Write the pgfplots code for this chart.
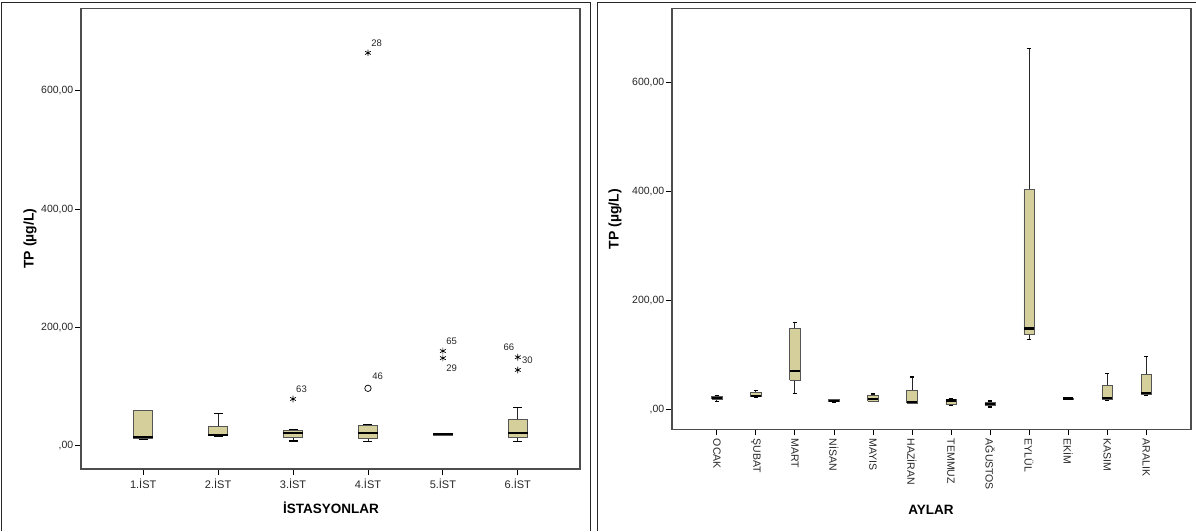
\documentclass[border=0pt]{standalone}
\usepackage{pgfplots}
\pgfplotsset{compat=1.18}
\usepackage{fontspec}
\setmainfont{Liberation Sans}
\definecolor{boxfill}{HTML}{D4CF9B}
\definecolor{boxedge}{HTML}{555555}
\definecolor{frame}{HTML}{4D4D4D}
\pgfplotsset{
  spssaxis/.style={
    scale only axis,
    axis line style={draw=frame, line width=1.4pt},
    tick align=outside,
    tick pos=left,
    major tick length=6pt,
    tick style={black, line width=0.9pt},
    tick label style={font=\fontsize{10.5}{12}\selectfont, text=black!85},
    yticklabel style={inner sep=1.5pt},
    ytick={0,200,400,600},
    yticklabels={{,00},{200,00},{400,00},{600,00}},
  },
  whisk/.style={draw=black!85, line width=0.9pt, mark=none},
  wcap/.style={draw=black, line width=1.3pt, mark=none},
  sbox/.style={draw=boxedge, fill=boxfill, line width=0.9pt, line join=miter, mark=none},
  smed/.style={draw=black, line width=2.3pt, mark=none},
}
\tikzset{olab/.style={font=\fontsize{9.5}{10}\selectfont, text=black!85, inner sep=0pt}}
% #1 position, #2 lower whisker, #3 Q1, #4 median, #5 Q3, #6 upper whisker
\newcommand{\spssbox}[6]{%
  \pgfmathsetmacro\bxl{#1-0.13}%
  \pgfmathsetmacro\bxr{#1+0.13}%
  \pgfmathsetmacro\wxl{#1-0.06}%
  \pgfmathsetmacro\wxr{#1+0.06}%
  \addplot[whisk] coordinates {(#1,#2) (#1,#3)};
  \addplot[whisk] coordinates {(#1,#5) (#1,#6)};
  \addplot[wcap] coordinates {(\wxl,#2) (\wxr,#2)};
  \addplot[wcap] coordinates {(\wxl,#6) (\wxr,#6)};
  \addplot[sbox] coordinates {(\bxl,#3) (\bxr,#3) (\bxr,#5) (\bxl,#5) (\bxl,#3)};
  \addplot[smed] coordinates {(\bxl,#4) (\bxr,#4)};
}
\begin{document}
\begin{tikzpicture}
\path[use as bounding box] (0pt,0pt) rectangle (1196pt,531pt);
% panel frames
\draw[black!85, line width=1pt] (1.5pt,0pt) -- (1.5pt,528.5pt) -- (590pt,528.5pt) -- (590pt,0pt);
\draw[black!85, line width=1pt] (597pt,0pt) -- (597pt,528.5pt) -- (1196pt,528.5pt);

% ---------------- left chart ----------------
\begin{axis}[spssaxis,
  at={(81pt,62pt)}, anchor=south west,
  width=499pt, height=460.5pt,
  xmin=0.17, xmax=6.83, ymin=-39.4, ymax=739,
  xtick={1,2,3,4,5,6},
  xticklabels={1.İST,2.İST,3.İST,4.İST,5.İST,6.İST},
  xticklabel style={font=\fontsize{11}{12}\selectfont},
]
\spssbox{1}{10}{13}{15}{59}{60}
\spssbox{2}{16}{17}{18}{33}{54}
\spssbox{3}{8}{14}{21}{25}{27}
\spssbox{4}{7.5}{12.5}{22}{34.5}{35.5}
\spssbox{5}{17.5}{18}{19.5}{20.5}{21}
\spssbox{6}{7}{14}{21}{44.5}{64}
% extreme values
\addplot[only marks, mark=asterisk, mark size=3.3pt, black, line width=0.7pt]
  coordinates {(3,79) (4,664) (5,160) (5,148) (6,149.5) (6,128)};
% outliers
\addplot[only marks, mark=o, mark size=3.2pt, black, line width=0.7pt]
  coordinates {(4,97)};
\node[olab] at (axis cs:3.113,95.9) {63};
\node[olab] at (axis cs:4.115,680.5) {28};
\node[olab] at (axis cs:4.13,116.7) {46};
\node[olab] at (axis cs:5.116,177) {65};
\node[olab] at (axis cs:5.116,130.9) {29};
\node[olab] at (axis cs:5.881,166.4) {66};
\node[olab] at (axis cs:6.127,145) {30};
\end{axis}
\node[rotate=90, font=\bfseries\fontsize{14}{16}\selectfont] at (30pt,292.5pt) {TP (µg/L)};
\node[font=\bfseries\fontsize{13.5}{16}\selectfont] at (331pt,23pt) {İSTASYONLAR};

% ---------------- right chart ----------------
\begin{axis}[spssaxis,
  at={(672pt,101.7pt)}, anchor=south west,
  width=519pt, height=421pt,
  xmin=-0.15, xmax=13.15, ymin=-36, ymax=737,
  xtick={1,2,3,4,5,6,7,8,9,10,11,12},
  xticklabels={OCAK,ŞUBAT,MART,NİSAN,MAYIS,HAZİRAN,TEMMUZ,AĞUSTOS,EYLÜL,EKİM,KASIM,ARALIK},
  xticklabel style={rotate=-90, anchor=west},
]
\spssbox{1}{15}{19}{22}{25}{26}
\spssbox{2}{23}{24}{25}{31}{35}
\spssbox{3}{30}{54}{71}{149}{160}
\spssbox{4}{14}{15}{16}{18}{19}
\spssbox{5}{15}{16}{20}{27}{29}
\spssbox{6}{11}{12}{13.5}{35}{60}
\spssbox{7}{8}{9}{17}{19}{20}
\spssbox{8}{5}{8}{11}{14}{16}
\spssbox{9}{129}{139}{149}{405}{663}
\spssbox{10}{19}{19.5}{20.5}{21.5}{22}
\spssbox{11}{18}{19}{21}{44}{66}
\spssbox{12}{27}{28.5}{31}{65}{98}
\end{axis}
\node[rotate=90, font=\bfseries\fontsize{14}{16}\selectfont] at (615pt,312pt) {TP (µg/L)};
\node[font=\bfseries\fontsize{13.5}{16}\selectfont] at (931pt,21pt) {AYLAR};
\end{tikzpicture}
\end{document}
